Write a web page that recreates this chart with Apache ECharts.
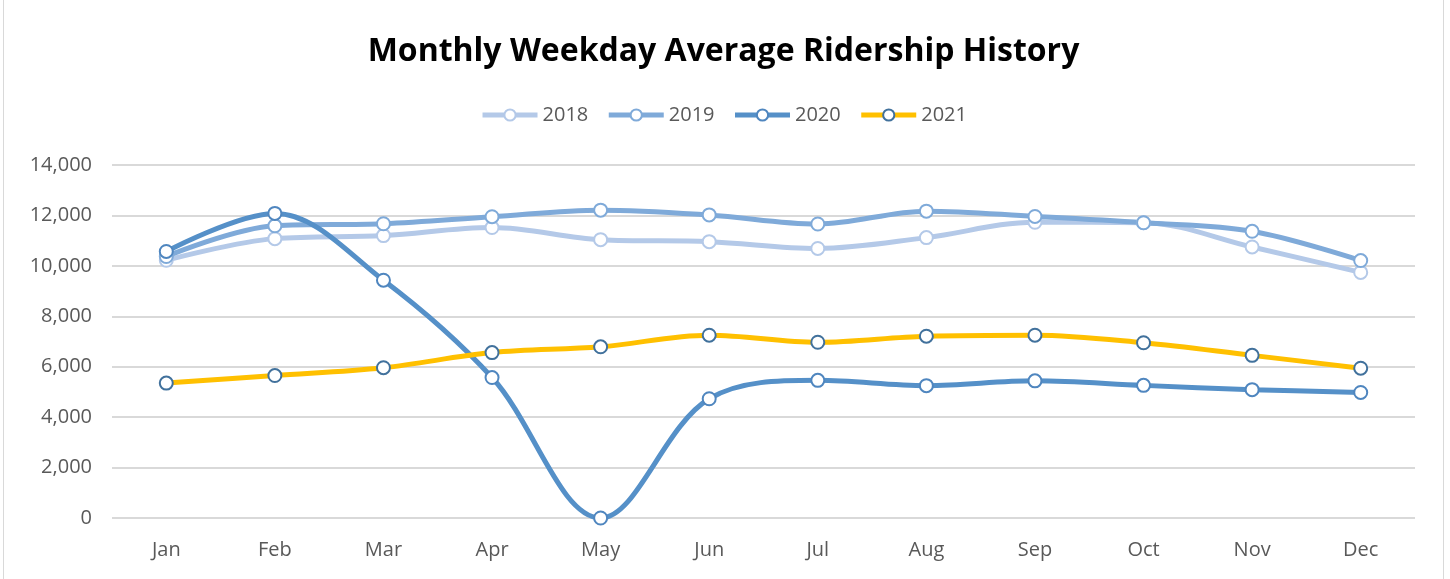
<!DOCTYPE html>
<html>
<head>
<meta charset="utf-8">
<script src="https://cdn.jsdelivr.net/npm/echarts@6/dist/echarts.min.js"></script>
<style>
  html, body { margin: 0; padding: 0; background: #fff; }
  #chart { position: absolute; left: 3px; top: -2px; width: 1441px; height: 584px; border: 1px solid #d9d9d9; box-sizing: border-box; }
</style>
</head>
<body>
<div id="chart"></div>
<script>
const months = ['Jan', 'Feb', 'Mar', 'Apr', 'May', 'Jun', 'Jul', 'Aug', 'Sep', 'Oct', 'Nov', 'Dec']
const yTicks = [0, 2000, 4000, 6000, 8000, 10000, 12000, 14000]

const r2018 = [10220, 11080, 11200, 11520, 11040, 10960, 10690, 11120, 11730, 11710, 10750, 9740]
const r2019 = [10370, 11590, 11670, 11950, 12210, 12020, 11660, 12170, 11960, 11710, 11370, 10210]
const r2020 = [10570, 12080, 9430, 5570, 0, 4730, 5460, 5250, 5440, 5260, 5090, 4980]
const r2021 = [5350, 5650, 5960, 6560, 6790, 7250, 6970, 7210, 7250, 6950, 6450, 5940]

const chart = echarts.init(document.getElementById('chart'))

function line (name, data, color, border) {
  return {
    name: name,
    type: 'line',
    data: data,
    smooth: 0.35,
    symbol: 'circle',
    symbolSize: 13,
    lineStyle: { color: color, width: 5 },
    itemStyle: { color: '#fff', borderColor: border, borderWidth: 2 },
    emphasis: { disabled: true }
  }
}

chart.setOption({
  animation: false,
  title: {
    text: 'Monthly Weekday Average Ridership History',
    left: 'center',
    top: 32,
    textStyle: { fontFamily: 'Open Sans', fontWeight: 'bold', fontSize: 32, color: '#000' }
  },
  legend: {
    top: 101,
    left: 'center',
    itemWidth: 55,
    itemHeight: 14,
    itemGap: 18,
    lineStyle: { width: 5 },
    textStyle: { fontFamily: 'Open Sans', fontSize: 20, color: '#595959' }
  },
  grid: { left: 108, right: 28, top: 166, bottom: 63 },
  xAxis: {
    type: 'category',
    data: months,
    boundaryGap: true,
    axisLine: { show: false },
    axisTick: { show: false },
    axisLabel: { fontFamily: 'Open Sans', fontSize: 20, color: '#595959', margin: 22 }
  },
  yAxis: {
    type: 'value',
    min: yTicks[0],
    max: yTicks[yTicks.length - 1],
    interval: 2000,
    axisLine: { show: false },
    axisTick: { show: false },
    splitLine: { lineStyle: { color: '#d9d9d9', width: 2 } },
    axisLabel: {
      fontFamily: 'Open Sans', fontSize: 20, color: '#595959', margin: 20,
      formatter: v => v.toLocaleString('en-US')
    }
  },
  series: [
    line('2018', r2018, '#b4c9e8', '#b4c9e8'),
    line('2019', r2019, '#7faad9', '#7faad9'),
    line('2020', r2020, '#5590c8', '#4f86bf'),
    line('2021', r2021, '#ffc000', '#41719c')
  ]
})
</script>
</body>
</html>
